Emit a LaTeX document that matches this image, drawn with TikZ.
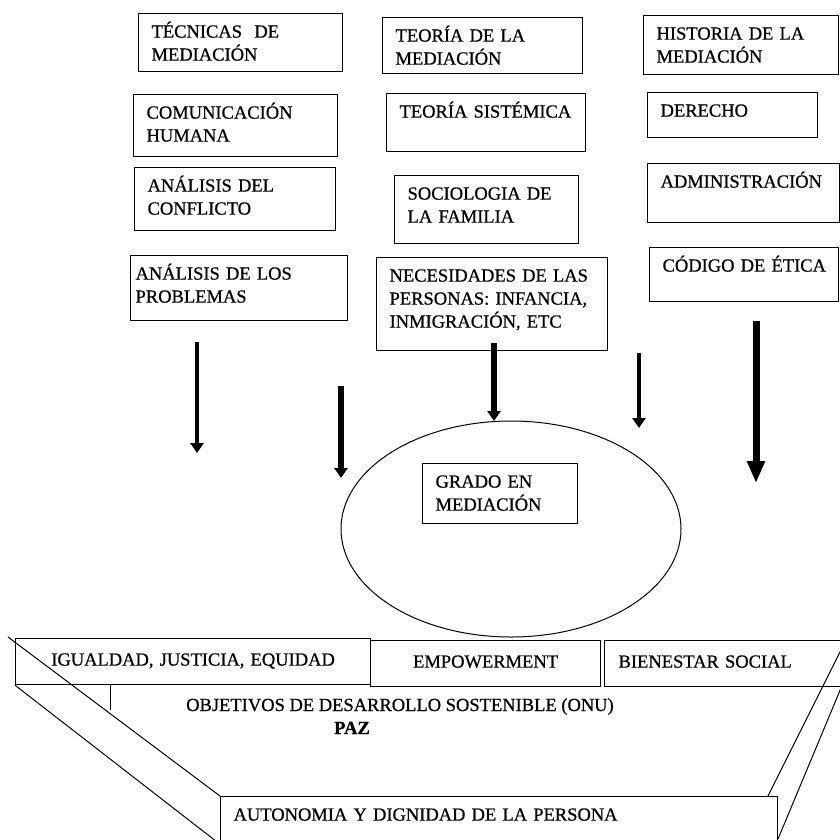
\documentclass[tikz,border=0pt]{standalone}
\usepackage{fontspec}
\setmainfont{Liberation Serif}[FakeBold=0.7]
\usetikzlibrary{arrows.meta,shapes.geometric}

\begin{document}
\begin{tikzpicture}[x=1pt,y=-1pt,
  font=\fontsize{18.5}{23}\selectfont,
  tema/.style={draw, line width=1.2pt, anchor=north west, align=left,
    inner xsep=13pt, inner ysep=12pt, text height=12pt},
  franja/.style={tema, inner ysep=15pt, text depth=4pt},
  flecha/.style={draw=black, line width=5pt, -{Triangle[width=13pt,length=10pt]}},
  borde/.style={line width=1pt}]

\useasboundingbox (0,0) rectangle (840,839);

% left column
\node[tema, text width=178pt, text depth=22pt] (tec) at (138,13) {TÉCNICAS\ \ DE\\MEDIACIÓN};
\node[tema, text width=178pt, text depth=26pt] (com) at (133,94) {COMUNICACIÓN\\HUMANA};
\node[tema, text width=175pt, text depth=27pt] (acon) at (134,167) {ANÁLISIS DEL\\CONFLICTO};
\node[tema, inner xsep=5pt, text width=207pt, text depth=29pt] (aprob) at (130,255) {ANÁLISIS DE LOS\\PROBLEMAS};

% middle column
\node[tema, text width=174pt, text depth=20pt] (teo) at (382,17) {TEORÍA DE LA\\MEDIACIÓN};
\node[tema, text width=173pt, text depth=22pt] (sis) at (386,93) {\mbox{TEORÍA SISTÉMICA}};
\node[tema, text width=158pt, text depth=32pt] (soc) at (394,175) {SOCIOLOGIA DE\\LA FAMILIA};
\node[tema, text width=205pt, text depth=57pt] (nec) at (376,257) {\mbox{NECESIDADES DE LAS}\\\mbox{PERSONAS: INFANCIA,}\\INMIGRACIÓN, ETC};

% right column
\node[tema, text width=169pt, text depth=23pt] (his) at (643,15) {HISTORIA DE LA\\MEDIACIÓN};
\node[tema, text width=144pt, text depth=9pt] (der) at (647,92) {DERECHO};
\node[tema, text width=166pt, text depth=23pt] (adm) at (647,163) {\mbox{ADMINISTRACIÓN}};
\node[tema, text width=163pt, text depth=18pt] (cod) at (649,247) {\mbox{CÓDIGO DE ÉTICA}};

% arrows
\coordinate (a1) at (197,342);
\coordinate (b1) at (197,453);
\coordinate (a2) at (341,386);
\coordinate (b2) at (341,478);
\coordinate (a3) at (494,343);
\coordinate (b3) at (494,421);
\coordinate (a4) at (639,353);
\coordinate (b4) at (639,428);
\coordinate (a5) at (756,321);
\coordinate (b5) at (756,483);

\draw[flecha, line width=4.5pt] (a1) -- (b1);
\draw[flecha, line width=6pt] (a2) -- (b2);
\draw[flecha, line width=6pt] (a3) -- (b3);
\draw[flecha, line width=4.5pt] (a4) -- (b4);
\draw[flecha, line width=7pt, -{Triangle[width=17pt,length=22pt]}] (a5) -- (b5);

% degree
\node[draw, ellipse, line width=1pt, minimum width=340pt, minimum height=216pt] (elip) at (511,529) {};
\node[tema, text width=129pt, text depth=24pt] (grado) at (422,463) {GRADO EN\\MEDIACIÓN};

% base
\node[franja, align=center, text width=329pt] (igu) at (15,638) {IGUALDAD, JUSTICIA, EQUIDAD};
\node[franja, align=center, text width=204pt] (emp) at (370,640) {EMPOWERMENT};
\node[franja, inner xsep=14pt, text width=218pt] (bien) at (604,640) {BIENESTAR SOCIAL};
\node[tema, text width=531pt, text depth=24pt] (aut) at (220,796) {AUTONOMIA Y DIGNIDAD DE LA PERSONA};

\node[anchor=base] (ods) at (400,711) {OBJETIVOS DE DESARROLLO SOSTENIBLE (ONU)};
\node[anchor=base, font=\fontsize{18.5}{23}\selectfont\bfseries] (paz) at (352,734) {PAZ};

\coordinate (izq1) at (8,637);
\coordinate (izq2) at (221,845);
\coordinate (poste) at (110,710);
\coordinate (pie1) at (768,796);
\coordinate (der1) at (844,644);
\coordinate (pie2) at (778,839);
\coordinate (der2) at (846,676);

\draw[borde] (izq1) -- (aut.north west);
\draw[borde] (igu.south west) -- (izq2);
\draw[borde] (poste |- igu.south) -- (poste);
\draw[borde] (pie1) -- (der1);
\draw[borde] (pie2) -- (der2);

\end{tikzpicture}
\end{document}
